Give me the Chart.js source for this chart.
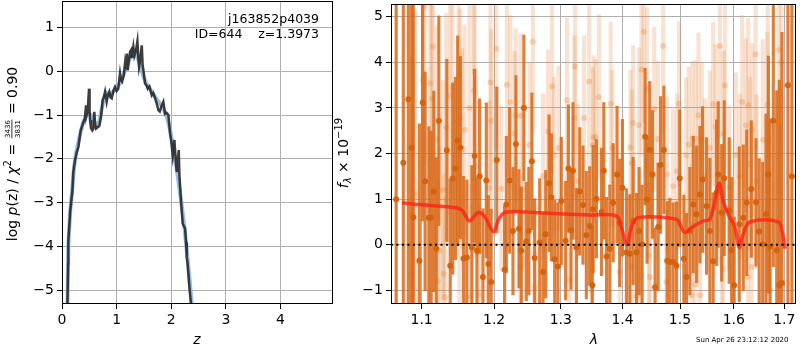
<!DOCTYPE html>
<html>
<head>
<meta charset="utf-8">
<script src="https://cdn.jsdelivr.net/npm/chart.js@4.4.0/dist/chart.umd.min.js"></script>
<style>
  html, body { margin: 0; padding: 0; background: #fff; }
  #wrap { position: relative; width: 800px; height: 350px; }
  #wrap canvas { position: absolute; left: 0; top: 0; }
</style>
</head>
<body>
<div id="wrap">
  <canvas id="pzChart" width="800" height="350"></canvas>
  <canvas id="specChart" width="800" height="350"></canvas>
</div>
<script>
// ---- left panel: log p(z) ----
const zDark = [0.095,0.112,0.116,0.13,0.15,0.177,0.19,0.207,0.238,0.27,0.30,0.342,0.37,0.403,0.42,0.44,0.45,0.47,0.495,0.505,0.513,0.53,0.555,0.575,0.592,0.605,0.623,0.65,0.683,0.714,0.745,0.765,0.788,0.818,0.84,0.866,0.89,0.91,0.94,0.97,1.00,1.03,1.062,1.08,1.10,1.13,1.154,1.17,1.185,1.203,1.225,1.245,1.264,1.28,1.306,1.325,1.355,1.38,1.395,1.41,1.43,1.46,1.475,1.49,1.52,1.545,1.57,1.60,1.643,1.67,1.70,1.734,1.764,1.79,1.82,1.855,1.886,1.915,1.947,1.978,2.00,2.027,2.057,2.08,2.10,2.137,2.15,2.18,2.21,2.253,2.27,2.284,2.30,2.33,2.36,2.39];
const pzDark = [-5.6,-4.4,-3.86,-3.6,-3.2,-2.87,-2.75,-2.30,-2.03,-1.85,-1.73,-1.35,-1.25,-1.12,-1.05,-0.78,-1.0,-0.9,-0.40,-0.9,-1.12,-1.3,-1.35,-1.3,-0.93,-1.2,-1.31,-1.28,-1.25,-1.04,-0.66,-0.6,-0.47,-0.70,-0.55,-0.47,-0.6,-0.62,-0.45,-0.36,-0.45,-0.40,-0.05,-0.2,-0.24,-0.1,0.18,0.05,0.40,0.02,0.25,0.44,0.48,0.30,0.55,0.35,0.48,0.68,0.35,0.10,0.25,0.59,0.15,0.02,-0.28,-0.32,-0.40,-0.35,-0.55,-0.5,-0.60,-0.74,-0.89,-0.92,-0.8,-0.70,-0.97,-0.95,-1.0,-1.42,-1.6,-1.92,-1.57,-2.0,-2.30,-1.80,-2.4,-3.0,-3.48,-3.59,-3.9,-4.24,-4.4,-4.9,-5.3,-5.7];
const zSmooth = [0.10,0.115,0.15,0.18,0.22,0.26,0.32,0.38,0.44,0.48,0.53,0.58,0.63,0.68,0.72,0.77,0.82,0.88,0.95,1.00,1.05,1.10,1.15,1.20,1.26,1.30,1.35,1.40,1.45,1.50,1.55,1.62,1.70,1.78,1.85,1.92,1.98,2.05,2.12,2.18,2.24,2.30,2.36,2.40];
const pzSmooth = [-5.4,-4.0,-3.2,-2.8,-2.2,-1.85,-1.5,-1.2,-1.02,-0.97,-1.0,-1.15,-1.22,-1.15,-0.9,-0.6,-0.5,-0.55,-0.45,-0.35,-0.3,-0.15,0.0,0.15,0.35,0.48,0.40,0.25,0.05,-0.15,-0.3,-0.42,-0.58,-0.72,-0.85,-1.05,-1.35,-1.85,-2.4,-2.95,-3.55,-4.3,-5.1,-5.6];
const zTicks = [0, 1, 2, 3, 4];
const pzTicks = [-5, -4, -3, -2, -1, 0, 1];

// ---- right panel: spectrum ----
const darkLam = [1.0669,1.0761,1.0826,1.0869,1.0891,1.0970,1.1014,1.1046,1.1095,1.1127,1.1162,1.1195,1.1230,1.1338,1.1384,1.1419,1.1456,1.1487,1.1524,1.1567,1.1613,1.1684,1.1722,1.1755,1.1793,1.1840,1.1888,1.1916,1.1958,1.2039,1.2152,1.2177,1.2226,1.2275,1.2319,1.2363,1.2398,1.2437,1.2472,1.2511,1.2557,1.2598,1.2675,1.2726,1.2767,1.2818,1.2855,1.2905,1.2955,1.3008,1.3076,1.3119,1.3161,1.3192,1.3246,1.3299,1.3351,1.3405,1.3458,1.3501,1.3515,1.3568,1.3651,1.3689,1.3734,1.3788,1.3843,1.3908,1.3953,1.3998,1.4066,1.4123,1.4179,1.4237,1.4282,1.4333,1.4385,1.4419,1.4465,1.4512,1.4558,1.4611,1.4654,1.4712,1.4771,1.4819,1.4877,1.4938,1.4996,1.5069,1.5119,1.5179,1.5240,1.5302,1.5363,1.5412,1.5486,1.5548,1.5609,1.5674,1.5704,1.5769,1.5818,1.5913,1.5959,1.6008,1.6106,1.6184,1.6250,1.6340,1.6432,1.6496,1.6565,1.6631,1.6678,1.6712,1.6778,1.6847,1.6899,1.6953,1.7075,1.7156];
const darkFlux = [1.00,1.80,3.19,2.13,0.60,-0.35,3.12,1.39,0.59,0.59,1.17,-0.09,2.72,2.07,-0.46,1.45,1.67,2.28,2.13,-0.30,-0.28,-0.06,1.95,-0.13,1.50,-0.71,1.41,-0.42,-0.82,1.86,-0.55,0.88,1.41,0.30,2.21,0.35,-0.13,3.00,0.07,0.30,1.83,-0.29,0.05,-0.60,0.23,1.35,1.04,-0.32,-0.48,0.96,0.09,1.67,0.32,1.62,-0.06,1.17,0.87,0.21,0.41,-0.89,0.78,1.01,0.72,1.62,-0.26,-0.09,0.92,1.54,0.48,1.25,-0.17,-0.20,0.52,-0.17,0.30,0.01,2.37,0.99,2.08,1.54,-0.93,0.39,1.75,2.08,-0.35,-0.38,-0.38,-0.46,1.46,-0.31,-0.71,0.30,0.88,0.67,1.10,1.43,0.85,0.30,-0.36,1.14,1.54,0.70,1.46,0.75,-0.12,-0.89,0.45,0.59,0.92,1.22,0.93,0.29,0.01,0.67,1.54,-0.04,2.72,-0.12,-0.89,-0.84,3.50,1.50];
const darkErr = [8.0,7.0,4.5,4.0,5.0,3.0,2.6,2.4,2.0,1.9,2.2,2.0,2.3,2.0,1.9,2.1,2.0,2.3,2.0,1.8,1.7,1.8,1.9,1.6,1.7,1.5,1.7,1.5,1.6,1.6,1.4,1.5,1.6,1.4,1.5,1.3,1.4,1.6,1.3,1.4,1.5,1.3,1.4,1.3,1.4,1.5,1.4,1.3,1.4,1.4,1.3,1.4,1.3,1.5,1.3,1.4,1.3,1.4,1.3,1.3,1.4,1.3,1.4,1.5,1.3,1.4,1.3,1.5,1.4,1.5,1.4,1.3,1.4,1.3,1.4,1.3,1.5,1.4,1.5,1.4,1.3,1.4,1.5,1.4,1.3,1.4,1.3,1.4,1.5,1.4,1.4,1.4,1.5,1.5,1.5,1.6,1.5,1.6,1.5,1.6,1.6,1.5,1.7,1.6,1.6,1.5,1.7,1.6,1.6,1.5,1.4,1.6,1.8,2.2,2.6,2.8,3.2,3.5,4.5,5.5,8.0,9.0];
const lightLam = [1.0861,1.0874,1.0917,1.1014,1.1037,1.1114,1.1135,1.1149,1.1203,1.1216,1.1239,1.1284,1.1293,1.1316,1.1330,1.1384,1.1415,1.1500,1.1510,1.1520,1.1548,1.1581,1.1651,1.1666,1.1712,1.1722,1.1746,1.1783,1.1934,1.1948,1.1958,1.2030,1.2104,1.2186,1.2236,1.2299,1.2314,1.2383,1.2388,1.2422,1.2522,1.2572,1.2598,1.2726,1.2802,1.2864,1.2894,1.2966,1.3097,1.3140,1.3215,1.3225,1.3273,1.3369,1.3449,1.3486,1.3511,1.3522,1.3555,1.3610,1.3803,1.3831,1.3953,1.4134,1.4151,1.4161,1.4179,1.4237,1.4282,1.4311,1.4323,1.4362,1.4419,1.4453,1.4465,1.4542,1.4611,1.4700,1.4759,1.4771,1.4877,1.4948,1.4984,1.5110,1.5160,1.5215,1.5226,1.5276,1.5285,1.5337,1.5367,1.5398,1.5459,1.5548,1.5609,1.5655,1.5736,1.5769,1.5799,1.5807,1.5831,1.5913,1.6040,1.6118,1.6163,1.6235,1.6280,1.6275,1.6313,1.6346,1.6358,1.6425,1.6445,1.6567,1.6656,1.6668,1.6702,1.6889,1.6918,1.6938];
const lightFlux = [-0.65,0.63,1.12,3.62,5.23,3.54,3.20,4.34,2.30,-0.80,-0.13,1.20,-0.64,-1.15,2.57,3.26,3.43,3.72,0.23,2.77,2.10,2.52,3.00,-1.13,3.38,3.80,1.72,-1.09,1.25,3.56,2.72,4.30,1.23,3.51,3.13,2.44,2.84,-0.49,2.83,1.21,2.19,4.45,-0.93,1.50,2.48,3.47,1.97,2.12,3.17,-0.78,2.78,3.91,1.39,2.78,3.58,-1.00,2.19,2.35,2.37,3.24,3.09,2.12,-0.60,2.13,-0.49,1.79,2.67,-1.13,2.62,-0.70,3.84,4.67,3.40,-0.24,-0.71,2.97,2.32,4.36,-0.82,1.54,1.28,1.61,3.09,1.96,2.20,-1.11,2.33,-0.87,2.33,2.84,-1.11,2.30,1.50,2.12,3.08,2.59,4.36,-0.31,-0.53,2.44,3.49,1.26,1.97,1.50,3.13,2.62,3.06,-0.71,1.77,-0.49,2.52,4.18,1.39,2.30,2.26,3.08,-1.00,4.27,-0.85,4.00];
const lightErr = [3.0,3.5,4.0,3.0,3.5,2.8,2.6,3.0,2.5,2.2,2.3,2.4,2.2,2.2,2.5,2.6,2.4,2.5,2.2,2.4,2.2,2.3,2.3,2.0,2.2,2.4,2.0,2.0,1.9,2.2,2.0,2.2,1.8,2.0,1.9,1.8,1.9,1.7,1.8,1.7,1.8,2.0,1.7,1.8,1.8,1.9,1.7,1.8,1.8,1.7,1.8,1.9,1.7,1.8,1.9,1.7,1.7,1.8,1.7,1.8,1.8,1.7,1.6,1.7,1.6,1.6,1.7,1.6,1.7,1.6,1.9,2.0,1.8,1.6,1.6,1.8,1.7,1.9,1.6,1.7,1.7,1.7,1.8,1.7,1.7,1.6,1.7,1.6,1.7,1.8,1.6,1.7,1.7,1.7,1.8,1.8,2.0,1.7,1.7,1.8,1.9,1.8,1.8,1.8,1.9,1.9,1.9,1.8,1.9,1.8,1.9,2.1,1.9,2.2,2.4,2.5,2.5,3.2,3.5,3.5];
const modelLam = [1.0744,1.0970,1.1465,1.1556,1.1650,1.1766,1.1860,1.1990,1.2077,1.2175,1.2672,1.3458,1.3897,1.3980,1.4075,1.4150,1.4263,1.4936,1.4996,1.5086,1.5208,1.5423,1.5547,1.5641,1.5722,1.5797,1.5893,1.6021,1.6104,1.6182,1.6313,1.6877,1.6967,1.7014];
const modelFlux = [0.92,0.88,0.81,0.74,0.52,0.70,0.63,0.29,0.59,0.72,0.70,0.65,0.63,0.38,0.00,0.38,0.59,0.56,0.45,0.27,0.38,0.52,0.56,0.96,1.35,0.96,0.67,0.38,-0.06,0.23,0.50,0.50,0.23,-0.09];
const lamTicks = [1.1, 1.2, 1.3, 1.4, 1.5, 1.6, 1.7];
const fluxTicks = [-1, 0, 1, 2, 3, 4, 5];
const lamRange = [1.0603, 1.7241];

document.addEventListener('DOMContentLoaded', function() {
  Chart.defaults.font.family = 'DejaVu Sans';
  Chart.defaults.font.size = 14;
  Chart.defaults.color = '#000';

  const FONT = 'DejaVu Sans';
  const gridColor = '#b0b0b0';

  function minus(v) {
    return String(v).replace('-', '\u2212');
  }

  // fixed axis box sizes so the plot areas land where the original has them
  function fitX(s) { s.height = 46; s.paddingLeft = 0; s.paddingRight = 0; }
  function fitY(s) { s.width = 40; s.paddingTop = 0; s.paddingBottom = 0; }

  function axisOpts(extra, tickCallback) {
    return Object.assign({
      offset: false,
      grid: { color: gridColor, lineWidth: 1, tickLength: 5, tickColor: '#000', tickWidth: 1, offset: false },
      border: { display: false },
      ticks: { color: '#000', padding: 3, autoSkip: false, maxRotation: 0, callback: tickCallback }
    }, extra);
  }

  // draws text made of pieces (normal / italic / sub / sup / fraction), rotated
  function drawRich(ctx, parts, cx, cy, rotate) {
    ctx.save();
    ctx.translate(cx, cy);
    if (rotate) ctx.rotate(-Math.PI / 2);
    let total = 0;
    parts.forEach(p => {
      ctx.font = p.font;
      if (p.frac) {
        p.w = Math.max(ctx.measureText(p.frac[0]).width, ctx.measureText(p.frac[1]).width) + 3;
      } else {
        p.w = ctx.measureText(p.t).width;
      }
      total += p.w;
    });
    let x = -total / 2;
    ctx.fillStyle = '#000';
    ctx.textBaseline = 'alphabetic';
    const base = 5;
    parts.forEach(p => {
      ctx.font = p.font;
      if (p.frac) {
        ctx.textAlign = 'center';
        ctx.fillText(p.frac[0], x + p.w / 2, base - 7);
        ctx.fillText(p.frac[1], x + p.w / 2, base + 3);
        ctx.fillRect(x + 1, base - 5.5, p.w - 2, 0.8);
      } else {
        ctx.textAlign = 'left';
        ctx.fillText(p.t, x, base + (p.dy || 0));
      }
      x += p.w;
    });
    ctx.restore();
  }

  function drawFrame(chart) {
    const { ctx, chartArea: a } = chart;
    ctx.save();
    ctx.strokeStyle = '#000';
    ctx.lineWidth = 1;
    ctx.strokeRect(Math.round(a.left) + 0.5, Math.round(a.top) + 0.5,
      Math.round(a.right - a.left) - 1, Math.round(a.bottom - a.top) - 1);
    ctx.restore();
  }

  // ---------- left chart ----------
  new Chart(document.getElementById('pzChart'), {
    type: 'scatter',
    data: {
      datasets: [
        {
          data: zDark.map((z, i) => ({ x: z, y: pzDark[i] })),
          showLine: true,
          borderColor: 'rgba(45,45,45,0.92)',
          borderWidth: 2.5,
          pointRadius: 0,
          order: 0
        },
        {
          data: zSmooth.map((z, i) => ({ x: z, y: pzSmooth[i] })),
          showLine: true,
          borderColor: 'rgba(130,180,222,0.85)',
          borderWidth: 4,
          pointRadius: 0,
          order: 1
        }
      ]
    },
    options: {
      responsive: false,
      animation: false,
      devicePixelRatio: 1,
      layout: { padding: { left: 22, right: 467, top: 1, bottom: 0 } },
      plugins: { legend: { display: false }, tooltip: { enabled: false } },
      scales: {
        x: axisOpts({
          type: 'linear', min: 0, max: 4.96,
          afterBuildTicks: s => { s.ticks = zTicks.map(v => ({ value: v })); },
          afterFit: fitX
        }, v => minus(v)),
        y: axisOpts({
          type: 'linear', min: -5.31, max: 1.6,
          afterBuildTicks: s => { s.ticks = pzTicks.map(v => ({ value: v })); },
          afterFit: fitY
        }, v => minus(v))
      }
    },
    plugins: [{
      id: 'pzDecor',
      afterDraw(chart) {
        const ctx = chart.ctx;
        drawFrame(chart);
        ctx.save();
        ctx.fillStyle = '#000';
        ctx.font = '12.5px ' + FONT;
        ctx.textAlign = 'right';
        ctx.textBaseline = 'middle';
        ctx.fillText('j163852p4039', 319, 20);
        ctx.fillText('ID=644    z=1.3973', 319, 35);
        ctx.font = 'italic 14px ' + FONT;
        ctx.textAlign = 'center';
        ctx.fillText('z', 197, 340);
        ctx.restore();
        drawRich(ctx, [
          { t: 'log ', font: '14px ' + FONT },
          { t: 'p', font: 'italic 14px ' + FONT },
          { t: '(z) / ', font: '14px ' + FONT },
          { t: '\u03c7', font: 'italic 14px ' + FONT },
          { t: '2', font: '10px ' + FONT, dy: -6 },
          { t: ' = ', font: '14px ' + FONT },
          { frac: ['3436', '3831'], font: '7px ' + FONT },
          { t: ' = 0.90', font: '14px ' + FONT }
        ], 12, 154, true);
      }
    }]
  });

  // ---------- right chart ----------
  const errBars = (lam, flux, err) => lam.map((l, i) => ({ x: l, y: [flux[i] - err[i], flux[i] + err[i]] }));
  const pts = (lam, flux) => lam.map((l, i) => ({ x: l, y: flux[i] }));

  new Chart(document.getElementById('specChart'), {
    type: 'scatter',
    data: {
      datasets: [
        {
          data: [{ x: lamRange[0], y: 0 }, { x: lamRange[1], y: 0 }],
          showLine: true, borderColor: '#000', borderWidth: 2, borderDash: [2, 3.5],
          pointRadius: 0, order: 0
        },
        {
          data: pts(modelLam, modelFlux),
          showLine: true, borderColor: 'rgba(255,35,20,0.8)', borderWidth: 3.5,
          tension: 0.35, pointRadius: 0, order: 1
        },
        {
          data: pts(darkLam, darkFlux),
          pointRadius: 3, pointBackgroundColor: 'rgba(212,98,12,0.95)', pointBorderWidth: 0, order: 2
        },
        {
          type: 'bar',
          data: errBars(darkLam, darkFlux, darkErr),
          backgroundColor: 'rgba(216,105,25,0.85)', borderWidth: 0,
          barThickness: 2.5, grouped: false, order: 3
        },
        {
          data: pts(lightLam, lightFlux),
          pointRadius: 3, pointBackgroundColor: 'rgba(230,130,55,0.3)', pointBorderWidth: 0, order: 4
        },
        {
          type: 'bar',
          data: errBars(lightLam, lightFlux, lightErr),
          backgroundColor: 'rgba(232,140,70,0.25)', borderWidth: 0,
          barThickness: 3.5, grouped: false, order: 5
        }
      ]
    },
    options: {
      responsive: false,
      animation: false,
      devicePixelRatio: 1,
      layout: { padding: { left: 351, right: 4, top: 1, bottom: 0 } },
      plugins: { legend: { display: false }, tooltip: { enabled: false } },
      scales: {
        x: axisOpts({
          type: 'logarithmic', min: lamRange[0], max: lamRange[1],
          afterBuildTicks: s => { s.ticks = lamTicks.map(v => ({ value: v })); },
          afterFit: fitX
        }, v => v.toFixed(1)),
        y: axisOpts({
          type: 'linear', min: -1.30, max: 5.28,
          afterBuildTicks: s => { s.ticks = fluxTicks.map(v => ({ value: v })); },
          afterFit: fitY
        }, v => minus(v))
      }
    },
    plugins: [{
      id: 'specDecor',
      afterDraw(chart) {
        const ctx = chart.ctx;
        drawFrame(chart);
        ctx.save();
        ctx.fillStyle = '#000';
        ctx.font = 'italic 14px ' + FONT;
        ctx.textAlign = 'center';
        ctx.textBaseline = 'middle';
        ctx.fillText('\u03bb', 594, 340);
        ctx.font = '7px ' + FONT;
        ctx.textAlign = 'left';
        ctx.fillText('Sun Apr 26 23:12:12 2020', 696, 340);
        ctx.restore();
        drawRich(ctx, [
          { t: 'f', font: 'italic 14px ' + FONT },
          { t: '\u03bb', font: 'italic 10px ' + FONT, dy: 3 },
          { t: ' \u00d7 10', font: '14px ' + FONT },
          { t: '\u221219', font: '10px ' + FONT, dy: -6 }
        ], 343, 153, true);
      }
    }]
  });
});
</script>
</body>
</html>
